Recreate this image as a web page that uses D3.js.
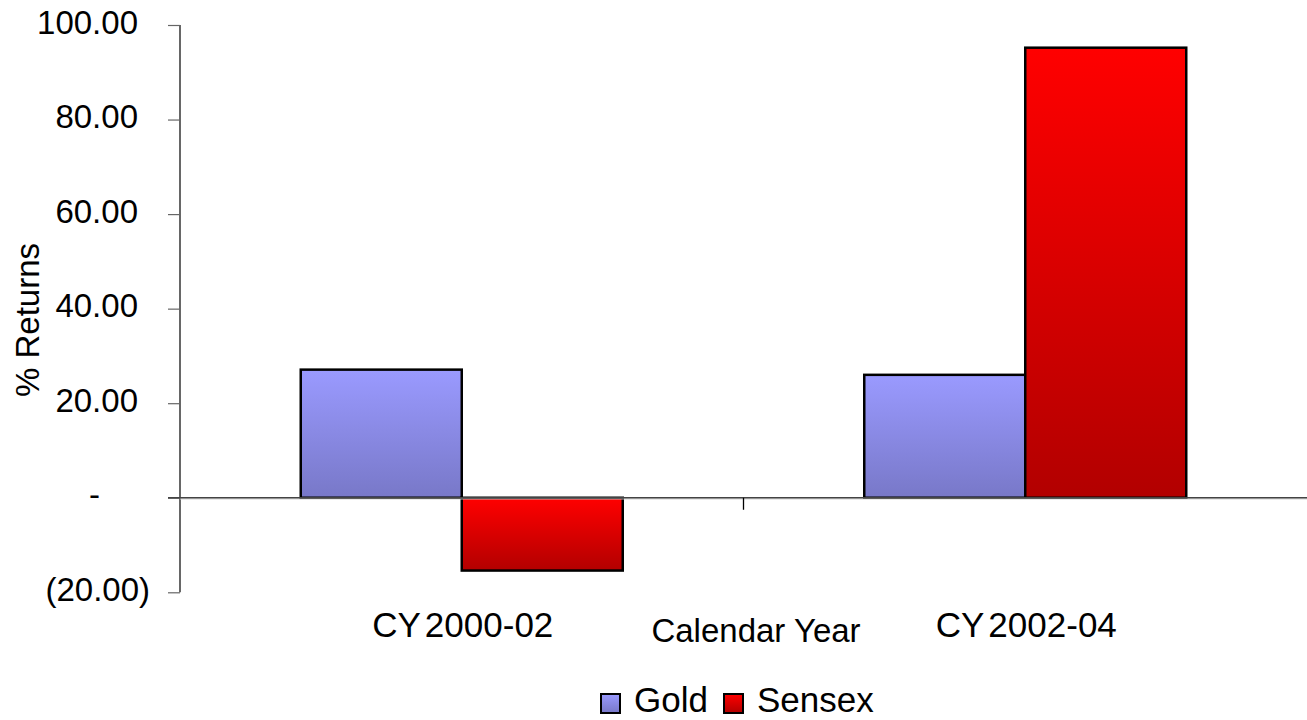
<!DOCTYPE html>
<html>
<head>
<meta charset="utf-8">
<script src="https://cdn.jsdelivr.net/npm/d3@7"></script>
<style>
  html, body { margin: 0; padding: 0; background: #fff; }
  svg { display: block; font-family: "Liberation Sans", Arial, sans-serif; }
</style>
</head>
<body>
<svg id="chart" width="1307" height="720"></svg>
<script>
const categories = ["CY 2000-02", "CY 2002-04"];
const seriesNames = ["Gold", "Sensex"];
const gold = [27.1, 26.0];
const sensex = [-15.4, 95.2];
const yTicks = [-20, 0, 20, 40, 60, 80, 100];
const xTitle = "Calendar Year";
const yTitle = "% Returns";

const svg = d3.select("#chart");
const plotLeft = 180, plotRight = 1307, plotTop = 25, plotBottom = 592.3;

const y = d3.scaleLinear().domain([-20, 100]).range([plotBottom, plotTop]);
const x0 = d3.scaleBand().domain(categories).range([plotLeft, plotRight]).padding(0);
const x1 = d3.scaleBand().domain(seriesNames).range([0, x0.bandwidth()]).paddingInner(0).paddingOuter(0.75);

const defs = svg.append("defs");
function grad(id, c1, c2) {
  const g = defs.append("linearGradient").attr("id", id).attr("x1", 0).attr("y1", 0).attr("x2", 0).attr("y2", 1);
  g.append("stop").attr("offset", "0%").attr("stop-color", c1);
  g.append("stop").attr("offset", "100%").attr("stop-color", c2);
}
grad("gGold", "#9a9aff", "#7878c8");
grad("gSensex", "#ff0000", "#b20000");
const fills = { Gold: "url(#gGold)", Sensex: "url(#gSensex)" };

const data = categories.map((c, i) => ({ cat: c, values: [
  { key: "Gold", value: gold[i] },
  { key: "Sensex", value: sensex[i] }
]}));

// Y axis
const fmt = v => v === 0 ? "-" : v < 0 ? "(" + d3.format(".2f")(-v) + ")" : d3.format(".2f")(v);
const yAxis = d3.axisLeft(y).tickValues(yTicks).tickSize(12).tickFormat(fmt).tickPadding(30);
const ya = svg.append("g").attr("transform", `translate(${plotLeft},0)`).call(yAxis);
ya.select(".domain").attr("stroke", "#000").attr("stroke-width", 1.2).attr("d", `M0,${plotTop}V${plotBottom}`);
ya.selectAll(".tick line").attr("stroke", "#666").attr("stroke-width", 1.2);
ya.selectAll(".tick text")
  .attr("font-size", 33).attr("fill", "#000")
  .attr("dy", null).attr("y", 8)
  .attr("x", d => d === 0 ? -80 : d < 0 ? -30 : -42);

// Bars
const groups = svg.append("g").selectAll("g").data(data).join("g")
  .attr("transform", d => `translate(${x0(d.cat)},0)`);
groups.selectAll("rect").data(d => d.values).join("rect")
  .attr("x", d => x1(d.key))
  .attr("width", x1.bandwidth())
  .attr("y", d => y(Math.max(0, d.value)))
  .attr("height", d => Math.abs(y(d.value) - y(0)))
  .attr("fill", d => fills[d.key])
  .attr("stroke", "#000").attr("stroke-width", 2.5);

// Zero line (category axis)
svg.append("line").attr("x1", plotLeft).attr("x2", plotRight).attr("y1", y(0) + 1.2).attr("y2", y(0) + 1.2)
  .attr("stroke", "#ccc").attr("stroke-width", 1);
svg.append("line").attr("x1", plotLeft - 12).attr("x2", plotRight).attr("y1", y(0)).attr("y2", y(0))
  .attr("stroke", "#444").attr("stroke-width", 1.3);
svg.append("g").selectAll("line").data(categories.slice(1)).join("line")
  .attr("x1", d => x0(d)).attr("x2", d => x0(d))
  .attr("y1", y(0)).attr("y2", y(0) + 12)
  .attr("stroke", "#000").attr("stroke-width", 1.3);

// Category labels
svg.append("g").selectAll("text").data(categories).join("text")
  .attr("x", d => x0(d) + x0.bandwidth() / 2 + 1)
  .attr("y", 637)
  .attr("text-anchor", "middle").attr("font-size", 35).attr("fill", "#000")
  .attr("word-spacing", -5)
  .text(d => d);

// Axis titles
svg.append("text").attr("x", 756).attr("y", 642).attr("text-anchor", "middle")
  .attr("font-size", 33).attr("fill", "#000").text(xTitle);
svg.append("text").attr("transform", "translate(39,320) rotate(-90)").attr("text-anchor", "middle")
  .attr("font-size", 33).attr("fill", "#000").text(yTitle);

// Legend
const legendX = [601, 724];
const lg = svg.append("g").selectAll("g").data(seriesNames).join("g")
  .attr("transform", (d, i) => `translate(${legendX[i]},694)`);
lg.append("rect").attr("width", 19).attr("height", 19)
  .attr("fill", d => fills[d]).attr("stroke", "#000").attr("stroke-width", 2);
lg.append("text").attr("x", 33).attr("y", 18).attr("font-size", 35).attr("fill", "#000").text(d => d);
</script>
</body>
</html>
